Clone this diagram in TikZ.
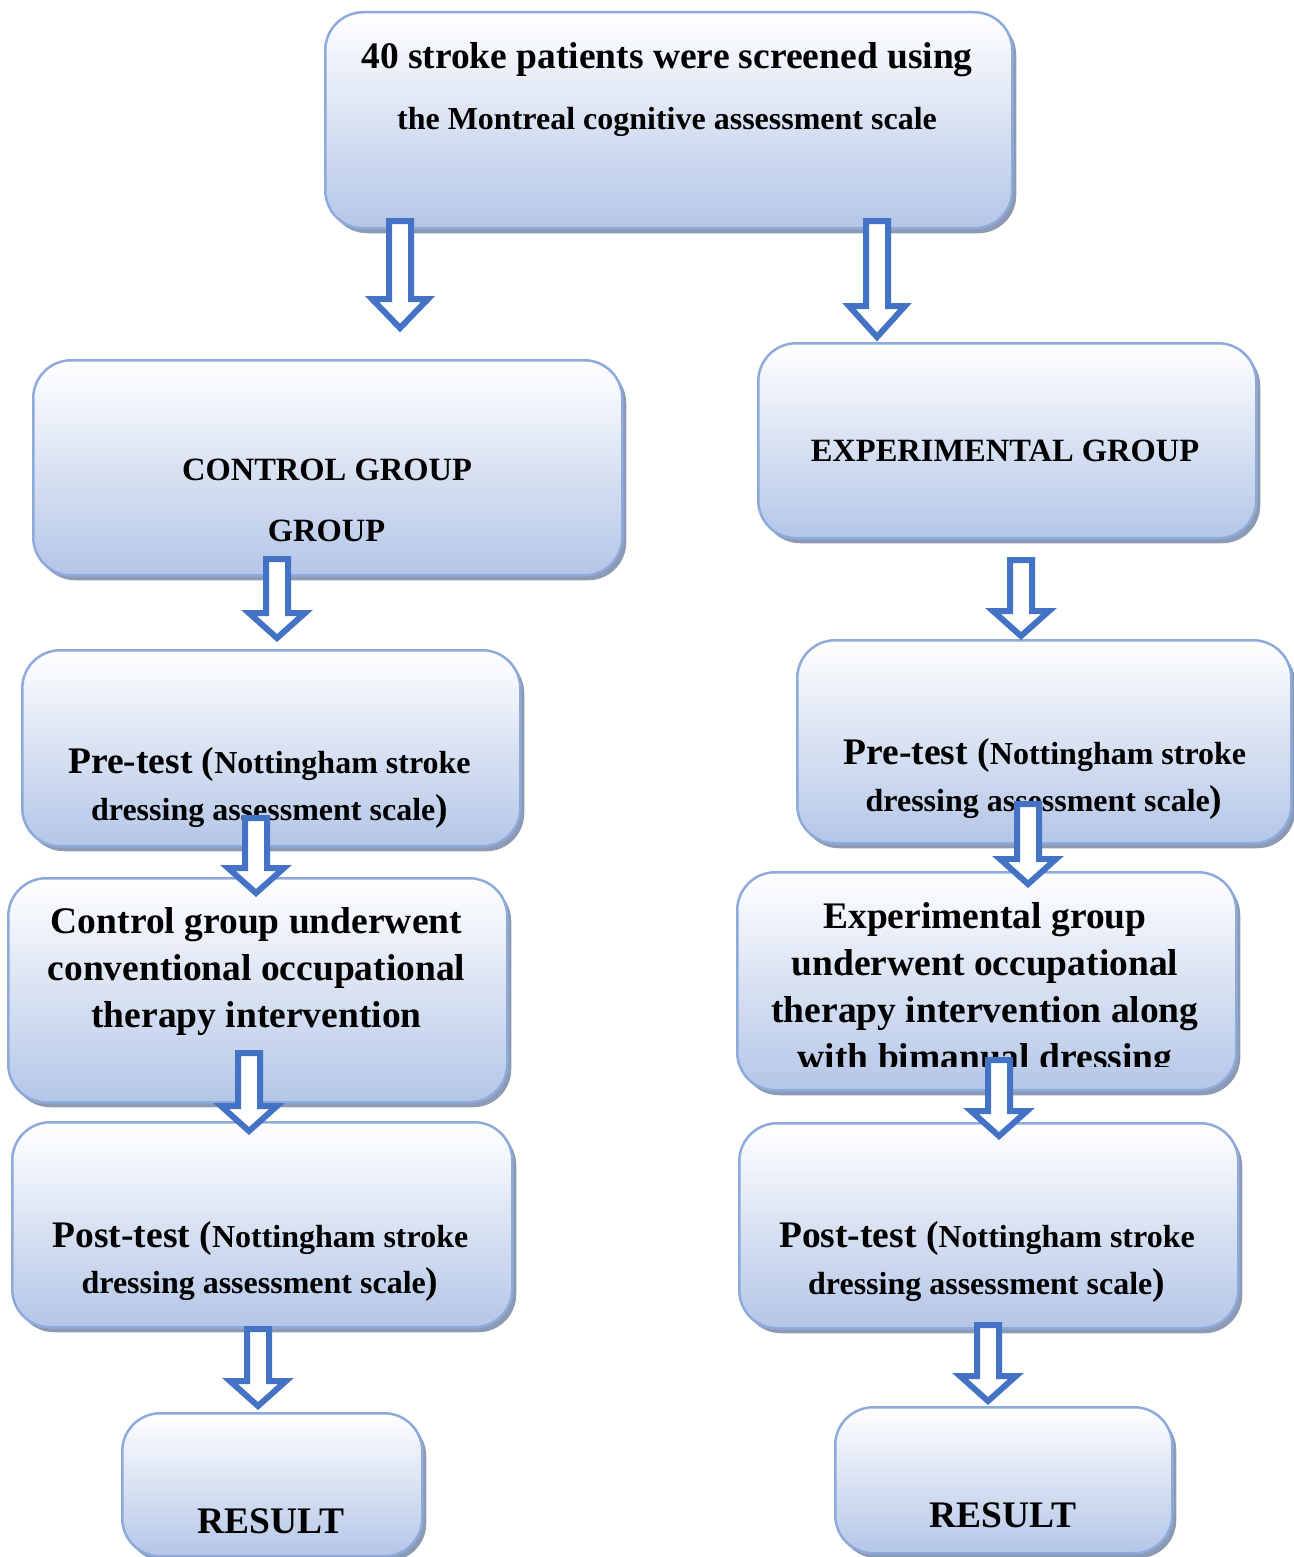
\documentclass[tikz,border=0pt]{standalone}
\usepackage{fontspec}
\setmainfont{Liberation Serif}
\usetikzlibrary{shadows,calc}
\definecolor{boxedge}{RGB}{142,170,219}
\definecolor{boxbot}{RGB}{180,198,231}
\definecolor{arrblue}{RGB}{68,114,196}
\definecolor{shadowc}{RGB}{140,154,180}
\tikzset{
  flowbox/.style={draw=boxedge, line width=2.5pt, rounded corners=38pt,
    top color=white, bottom color=boxbot, inner sep=0pt, anchor=north west,
    drop shadow={shadow xshift=4pt, shadow yshift=-5pt, fill=shadowc, opacity=1}},
  arrstyle/.style={draw=arrblue, fill=white, line width=6pt},
  txtbig/.style={anchor=base, inner sep=0pt, font=\bfseries\fontsize{37.5}{44}\selectfont},
  txtsm/.style={anchor=base, inner sep=0pt, font=\bfseries\fontsize{32}{38}\selectfont},
  txtcap/.style={anchor=base, inner sep=0pt, font=\bfseries\fontsize{32.5}{38}\selectfont}
}
\newcommand{\boxnode}[5]{% name, left, top, right, bottom
  \pgfmathsetmacro{\bw}{#4-#2}\pgfmathsetmacro{\bh}{#5-#3}%
  \node[flowbox, minimum width=\bw pt, minimum height=\bh pt] (#1) at (#2-1,#3-1) {};}
\newcommand{\blockarr}[5]{% name, cx, top, bottom, head length
  \coordinate (#1) at (#2,#4);
  \draw[arrstyle] (#2-11,#3+3) -- (#2+11,#3+3) -- (#2+11,#4-#5) -- (#2+28,#4-#5)
    -- ($(#1)+(0,-5)$) -- (#2-28,#4-#5) -- (#2-11,#4-#5) -- cycle;}
\newcommand{\sm}{\fontsize{32}{38}\selectfont}
\newcommand{\bigp}{\fontsize{37.5}{44}\selectfont}
\begin{document}
\begin{tikzpicture}[x=1pt,y=-1pt]
\fill[white] (0,0) rectangle (1293,1557);
\useasboundingbox (0,0) rectangle (1293,1557);
% boxes
\boxnode{b0}{325}{12}{1012}{228}
\boxnode{b1}{33}{360}{622}{575}
\boxnode{b2}{758}{343}{1256}{538}
\boxnode{b3}{22}{650}{520}{846}
\boxnode{b4}{797}{640}{1291}{843}
\boxnode{b5}{8}{878}{507}{1102}
\boxnode{b6}{737}{872}{1236}{1090}
\boxnode{b7}{12}{1122}{512}{1327}
\boxnode{b8}{739}{1123}{1238}{1328}
\boxnode{b9}{122}{1413}{422}{1556}
\boxnode{b10}{835}{1407}{1172}{1553}
% texts
\node[txtbig] (t0a) at (667,69) {40 stroke patients were screened using};
\node[txtsm] (t0b) at (667,130) {the Montreal cognitive assessment scale};
\node[txtcap] (t1a) at (327,480) {CONTROL GROUP};
\node[txtcap] (t1b) at (326.5,541) {GROUP};
\node[txtcap] (t2) at (1005,461) {EXPERIMENTAL GROUP};
\node[txtbig] (t3a) at (269.5,773) {Pre-test ({\sm Nottingham stroke}};
\node[txtsm] (t3b) at (269.5,820) {dressing assessment scale{\bigp)}};
\node[txtbig] (t4a) at (1045,764) {Pre-test ({\sm Nottingham stroke}};
\node[txtsm] (t4b) at (1044,811) {dressing assessment scale{\bigp)}};
\node[txtbig] (t5a) at (256.5,933) {Control group underwent};
\node[txtbig] (t5b) at (256.5,980) {conventional occupational};
\node[txtbig] (t5c) at (256.5,1027) {therapy intervention};
\node[txtbig] (t6a) at (985,928) {Experimental group};
\node[txtbig] (t6b) at (985,975) {underwent occupational};
\node[txtbig] (t6c) at (985,1022) {therapy intervention along};
\begin{scope}
\clip (700,860) rectangle (1260,1066);
\node[txtbig] (t6d) at (985,1069) {with bimanual dressing};
\end{scope}
\node[txtbig] (t7a) at (260.5,1247) {Post-test ({\sm Nottingham stroke}};
\node[txtsm] (t7b) at (260,1293) {dressing assessment scale{\bigp)}};
\node[txtbig] (t8a) at (987,1247) {Post-test ({\sm Nottingham stroke}};
\node[txtsm] (t8b) at (986.5,1294) {dressing assessment scale{\bigp)}};
\node[txtbig] (t9) at (271,1533) {RESULT};
\node[txtbig] (t10) at (1003,1527) {RESULT};
% arrows
\blockarr{a1}{400}{218}{333}{34}
\blockarr{a2}{877}{218}{342}{36}
\blockarr{a3}{277}{556}{643}{30}
\blockarr{a4}{1021}{557}{641}{30}
\blockarr{a5}{256}{815}{898}{30}
\blockarr{a6}{1028}{801}{889}{30}
\blockarr{a7}{249}{1050}{1136}{30}
\blockarr{a8}{999}{1057}{1141}{30}
\blockarr{a9}{258}{1326}{1411}{30}
\blockarr{a10}{988}{1322}{1406}{30}
\end{tikzpicture}
\end{document}
